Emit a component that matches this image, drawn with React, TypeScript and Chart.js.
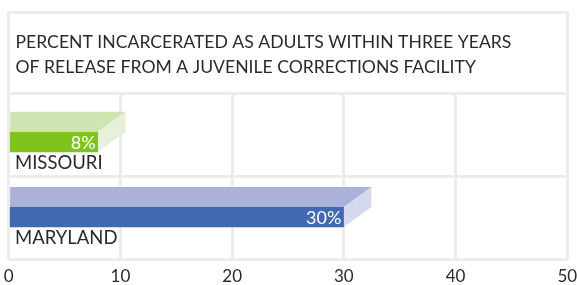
import React, { useEffect, useRef } from "react";
import { Chart, registerables } from "chart.js";

Chart.register(...registerables);

const titleLines = [
  "PERCENT INCARCERATED AS ADULTS WITHIN THREE YEARS",
  "OF RELEASE FROM A JUVENILE CORRECTIONS FACILITY",
];
const categories = ["MISSOURI", "MARYLAND"];
const values = [8, 30];
const valueLabels = ["8%", "30%"];
const xTicks = [0, 10, 20, 30, 40, 50];

const frontColors = ["#80c31e", "#4169b1"];
const topColors = ["#cfe5b1", "#abb1d8"];
const sideColors = ["#e7f1d9", "#d5d8ee"];

const GRID = "#ececec";
const FONT = "Lato";
const TEXT = "#2a2a2a";
const DX = 27.5;
const DY = 20;

const align3 = (p: number) => Math.round(p - 1.5) + 1.5;

const decorPlugin = {
  id: "decor",
  beforeDraw(chart: any) {
    const { ctx, chartArea } = chart;
    const l = align3(chartArea.left);
    const r = align3(chartArea.right);
    const t = 12.5;
    ctx.save();
    ctx.strokeStyle = GRID;
    ctx.lineWidth = 3;
    ctx.beginPath();
    ctx.moveTo(l, t);
    ctx.lineTo(r, t);
    ctx.moveTo(l, t - 1.5);
    ctx.lineTo(l, chartArea.top);
    ctx.moveTo(r, t - 1.5);
    ctx.lineTo(r, chartArea.top);
    ctx.stroke();
    ctx.fillStyle = TEXT;
    ctx.font = `17.6px ${FONT}`;
    ctx.textAlign = "left";
    ctx.textBaseline = "alphabetic";
    titleLines.forEach((line, i) => ctx.fillText(line, chartArea.left + 6.8, 48 + i * 24.5));
    ctx.restore();
  },
  afterDatasetsDraw(chart: any) {
    const { ctx } = chart;
    const meta = chart.getDatasetMeta(0);
    ctx.save();
    meta.data.forEach((bar: any, i: number) => {
      const { x, y, base, height } = bar.getProps(["x", "y", "base", "height"], true);
      const top = y - height / 2;
      const bottom = y + height / 2;
      ctx.fillStyle = topColors[i];
      ctx.beginPath();
      ctx.moveTo(base, top);
      ctx.lineTo(x, top);
      ctx.lineTo(x + DX, top - DY);
      ctx.lineTo(base, top - DY);
      ctx.closePath();
      ctx.fill();
      ctx.fillStyle = sideColors[i];
      ctx.beginPath();
      ctx.moveTo(x, top);
      ctx.lineTo(x + DX, top - DY);
      ctx.lineTo(x + DX, bottom - DY);
      ctx.lineTo(x, bottom);
      ctx.closePath();
      ctx.fill();
      ctx.fillStyle = "#ffffff";
      ctx.font = `18px ${FONT}`;
      ctx.textAlign = "right";
      ctx.textBaseline = "alphabetic";
      ctx.fillText(valueLabels[i], x - 2.5, y + 6.7);
      ctx.fillStyle = TEXT;
      ctx.textAlign = "left";
      ctx.font = `18.5px ${FONT}`;
      ctx.fillText(categories[i], chart.chartArea.left + 6.3, y + 27.2);
    });
    ctx.restore();
  },
};

export default function App() {
  const ref = useRef<HTMLCanvasElement>(null);
  useEffect(() => {
    const chart = new Chart(ref.current!, {
      type: "bar",
      data: {
        labels: categories,
        datasets: [
          {
            data: categories.map((c, i) => ({ x: values[i], y: i })) as any,
            backgroundColor: frontColors,
            borderWidth: 0,
            barThickness: 20,
          },
        ],
      },
      options: {
        indexAxis: "y",
        animation: false,
        responsive: false,
        devicePixelRatio: 1,
        layout: { autoPadding: false, padding: { left: 8.7, right: 9.7, top: 93.5, bottom: 0 } },
        plugins: { legend: { display: false }, tooltip: { enabled: false }, title: { display: false } },
        scales: {
          x: {
            type: "linear",
            position: "bottom",
            min: xTicks[0],
            max: xTicks[xTicks.length - 1],
            offset: false,
            afterBuildTicks: (s: any) => {
              s.ticks = xTicks.map((v) => ({ value: v }));
            },
            afterFit: (s: any) => {
              s.paddingLeft = 0;
              s.paddingRight = 0;
              s.height = 25.5;
            },
            ticks: {
              color: TEXT,
              font: { family: FONT, size: 17, lineHeight: 1 },
              padding: 8.5,
              maxRotation: 0,
            },
            grid: { color: GRID, lineWidth: 3, drawTicks: false, offset: false },
            border: { display: false },
          },
          y: {
            type: "linear",
            reverse: true,
            min: -0.644,
            max: 1.566,
            offset: false,
            grace: 0,
            grid: { offset: false },
            display: false,
          },
          yGrid: {
            type: "linear",
            position: "left",
            min: 0,
            max: categories.length,
            offset: false,
            grace: 0,
            afterBuildTicks: (s: any) => {
              s.ticks = [0, 1, 2].map((v) => ({ value: v }));
            },
            ticks: { display: false },
            afterFit: (s: any) => {
              s.paddingTop = 0;
              s.paddingBottom = 0;
              s.width = 0;
            },
            grid: { color: GRID, lineWidth: 3, drawTicks: false, offset: false },
            border: { display: false },
          },
        },
      },
      plugins: [decorPlugin],
    } as any);
    return () => chart.destroy();
  }, []);
  return (
    <div style={{ position: "absolute", left: 0, top: 0, width: 577, height: 285 }}>
      <canvas ref={ref} width={577} height={285} style={{ display: "block" }} />
    </div>
  );
}
